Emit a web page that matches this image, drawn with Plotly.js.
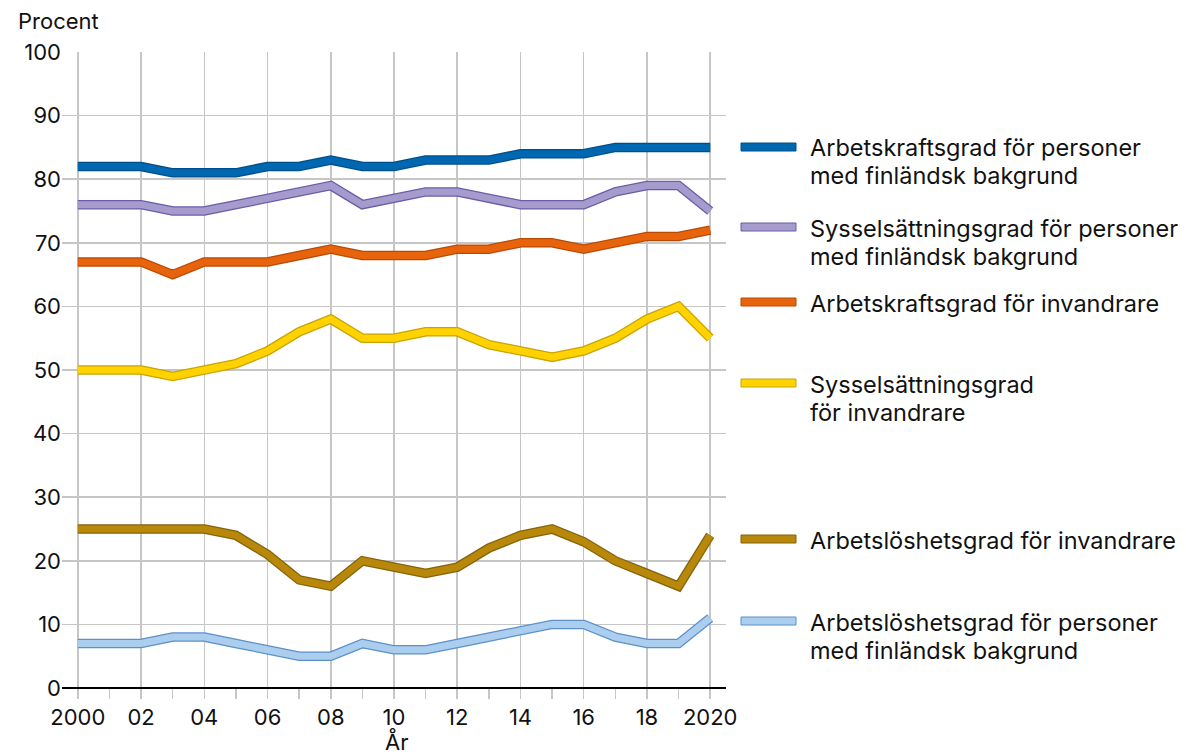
<!DOCTYPE html>
<html>
<head>
<meta charset="utf-8">
<script src="https://cdn.plot.ly/plotly-3.0.1.min.js"></script>
<style>html,body{margin:0;padding:0;background:#fff}#chart{width:1186px;height:756px}</style>
</head>
<body>
<div id="chart"></div>
<script>
const years = [2000,2001,2002,2003,2004,2005,2006,2007,2008,2009,2010,2011,2012,2013,2014,2015,2016,2017,2018,2019,2020];
const tickVals = [2000,2002,2004,2006,2008,2010,2012,2014,2016,2018,2020];
const tickText = ["2000","02","04","06","08","10","12","14","16","18","2020"];

const arbetskraftFinl = [82,82,82,81,81,81,82,82,83,82,82,83,83,83,84,84,84,85,85,85,85];
const sysselFinl      = [76,76,76,75,75,76,77,78,79,76,77,78,78,77,76,76,76,78,79,79,75];
const arbetskraftInv  = [67,67,67,65,67,67,67,68,69,68,68,68,69,69,70,70,69,70,71,71,72];
const sysselInv       = [50,50,50,49,50,51,53,56,58,55,55,56,56,54,53,52,53,55,58,60,55];
const arbetslosInv    = [25,25,25,25,25,24,21,17,16,20,19,18,19,22,24,25,23,20,18,16,24];
const arbetslosFinl   = [7,7,7,8,8,7,6,5,5,7,6,6,7,8,9,10,10,8,7,7,11];

const seriesNames = [
  "Arbetskraftsgrad för personer<br>med finländsk bakgrund",
  "Sysselsättningsgrad för personer<br>med finländsk bakgrund",
  "Arbetskraftsgrad för invandrare",
  "Sysselsättningsgrad<br>för invandrare",
  "Arbetslöshetsgrad för invandrare",
  "Arbetslöshetsgrad för personer<br>med finländsk bakgrund"
];
const seriesData = [arbetskraftFinl, sysselFinl, arbetskraftInv, sysselInv, arbetslosInv, arbetslosFinl];
const fillColors = ["#0067b1","#a59bcd","#e8640c","#ffd200","#b8880a","#abcdee"];
const edgeColors = ["#004f8a","#6b5ca8","#b84a06","#c9a400","#86620a","#5b90c9"];
const swatchY = [147, 227, 302, 383, 539, 621];   // pixel centers of legend swatches
const lineGap = 28;

const L = 62, R = 726, T = 52, B = 688;
const px = x => (x - L) / (R - L);
const py = y => (B - y) / (B - T);

const traces = [];
const shapes = [];
const annotations = [];
seriesData.forEach((d, i) => {
  traces.push({x: years, y: d, mode: 'lines', line: {color: edgeColors[i], width: 9.5}, hoverinfo: 'skip', showlegend: false});
  traces.push({x: years, y: d, mode: 'lines', line: {color: fillColors[i], width: 7}, name: seriesNames[i].replace('<br>', ' '), showlegend: false});
  shapes.push({type: 'rect', xref: 'paper', yref: 'paper', x0: px(741), x1: px(796), y0: py(swatchY[i] + 4), y1: py(swatchY[i] - 4),
    fillcolor: fillColors[i], line: {color: edgeColors[i], width: 1}});
  seriesNames[i].split('<br>').forEach((t, j) => {
    annotations.push({xref: 'paper', yref: 'paper', x: px(808), y: py(swatchY[i] + j * lineGap + 1), xanchor: 'left', yanchor: 'middle',
      text: t, showarrow: false, align: 'left', font: {size: 23.5, color: '#111'}});
  });
});
annotations.push({xref: 'paper', yref: 'paper', x: px(16), y: py(21), xanchor: 'left', yanchor: 'middle', text: 'Procent', showarrow: false, font: {size: 22, color: '#111'}});
annotations.push({xref: 'paper', yref: 'paper', x: px(397), y: py(741), xanchor: 'center', yanchor: 'middle', text: 'År', showarrow: false, font: {size: 22, color: '#111'}});

const layout = {
  width: 1186, height: 756,
  margin: {l: L, r: 1186 - R, t: T, b: 756 - B, pad: 0},
  paper_bgcolor: '#fff', plot_bgcolor: '#fff',
  font: {family: 'Inter, Roboto, sans-serif', size: 22, color: '#111'},
  showlegend: false,
  xaxis: {
    range: [1999.5, 2020.5], tickvals: tickVals, ticktext: tickText,
    showgrid: true, gridcolor: '#c6c6c6', gridwidth: 1.5,
    ticks: 'outside', ticklen: 10, tickcolor: '#c6c6c6', tickwidth: 1.5,
    minor: {dtick: 1, tick0: 2000, ticks: 'outside', ticklen: 10, tickcolor: '#c6c6c6', tickwidth: 1.5, showgrid: false},
    showline: false, zeroline: false, fixedrange: true,
    tickfont: {size: 22, color: '#111'}
  },
  yaxis: {
    range: [0, 100], dtick: 10, showgrid: true, gridcolor: '#c6c6c6', gridwidth: 1.5,
    zeroline: true, zerolinecolor: '#000', zerolinewidth: 2.5,
    ticks: '', showline: false, fixedrange: true,
    tickfont: {size: 22, color: '#111'}
  },
  shapes: shapes,
  annotations: annotations
};
Plotly.newPlot('chart', traces, layout, {staticPlot: true, displayModeBar: false});
</script>
</body>
</html>
